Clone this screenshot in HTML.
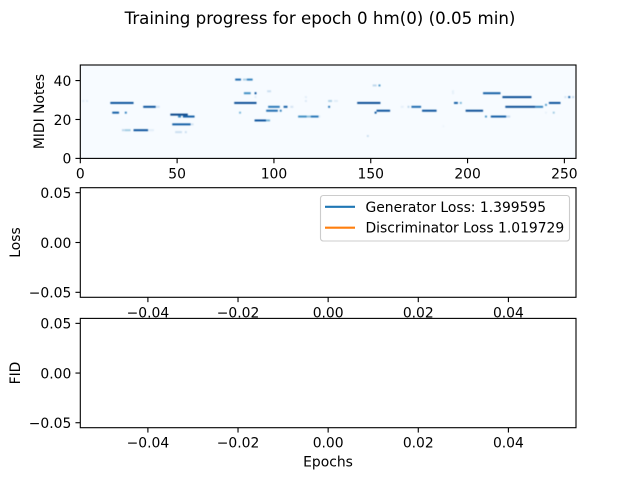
<!DOCTYPE html>
<html>
<head>
<meta charset="utf-8">
<style>
html,body{margin:0;padding:0;background:#fff;width:640px;height:480px;overflow:hidden}
svg{display:block}
text{font-family:"DejaVu Sans","Liberation Sans",sans-serif;fill:#000}
</style>
</head>
<body>
<svg id="fig" xmlns="http://www.w3.org/2000/svg" width="640" height="480" viewBox="0 0 640 480">
<defs><filter id="soft" x="-5%" y="-5%" width="110%" height="110%" color-interpolation-filters="sRGB"><feGaussianBlur stdDeviation="0.42"/></filter></defs>
<rect width="640" height="480" fill="#fff"/>
<text x="320" y="24" font-size="16.67" text-anchor="middle">Training progress for epoch 0 hm(0) (0.05 min)</text>
</svg>
<script>
// piano-roll data: [pitch, startStep, endStep, intensity]
const rollNotes = [
[29,1,2,0.12],[29,3,4,0.12],
[28,15.5,27.5,0.95],[26,32.5,39,0.95],[26,39,41,0.2],
[23,16.5,20,0.9],[23,23,24,0.75],
[14,21.5,23,0.3],[14,23,26,0.4],[14,27.5,35,0.95],[14,35,38,0.12],
[22,46.5,55.5,1],[21,50.5,52,0.75],[21,53,59,0.9],
[17,47.5,57,0.9],[17,57,58.5,0.2],[13,49,52.5,0.25],[13,54,55,0.25],
[40,80,83,0.85],[40,84,86,0.35],[40,86,89,0.75],
[33,84.5,88,0.7],[33,90,91,0.95],[31,90,91,0.12],[34,96.5,98.5,0.25],
[28,79.5,91,0.97],[23,82,83,0.5],
[19,90,96,0.95],[19,96,98,0.5],
[26,97,103,0.8],[26,105,107,0.9],[26,108.5,110,0.2],
[24,96,102,0.85],[24,103,104,0.75],
[21,112.5,117,0.7],[21,117,119,0.45],[21,119,123.5,0.8],
[31,116,117,0.12],[29,116,117,0.15],
[29,128,130,0.35],[29,131,133,0.12],[26,128,129,0.8],
[28,143,155,0.97],[24,153,160,0.95],[23,152,153,0.95],
[37,151,153,0.3],[37,154,155,0.65],[11,148,149,0.25],
[26,165.5,167,0.1],[26,169,170,0.3],[26,171,176,0.85],
[24,176.5,184,0.95],
[34,192,193,0.1],[33,192,193,0.1],[28,193,195,0.9],[28,196,197,0.5],
[24,199,208,0.97],[33,208,217,0.9],
[21,209,210,0.65],[21,212,220,0.9],[21,220,222,0.25],
[31,218,233,0.97],[26,219.5,235,0.97],[26,235,239,0.75],
[28,242,248,0.95],[27,240,241,0.6],[23,244,245,0.4],[23,240,241,0.08],
[31,250,251,0.2],[31,252,253,0.9],[31,254,255,0.3],[16,187,188,0.05],[21,123,124,0.12]
];
const rollXTicks = [0,50,100,150,200,250];
const rollYTicks = [0,20,40];
const emptyXTicks = [-0.04,-0.02,0,0.02,0.04];
const emptyYTicks = [-0.05,0,0.05];
const generatorLoss = [];
const discriminatorLoss = [];
const fidValues = [];
const legendLabels = ['Generator Loss: 1.399595','Discriminator Loss 1.019729'];

const NS = 'http://www.w3.org/2000/svg';
const fig = document.getElementById('fig');
const L = 80.3, R = 576;
function mk(tag, attrs, txt, parent){
  const e = document.createElementNS(NS, tag);
  for (const k in attrs) e.setAttribute(k, attrs[k]);
  if (txt !== undefined) e.textContent = txt;
  (parent || fig).appendChild(e);
  return e;
}
function scale(d0,d1,r0,r1){ return v => r0 + (v-d0)*(r1-r0)/(d1-d0); }
function fmt(v,dp){ return (v<0?'\u2212':'') + Math.abs(v).toFixed(dp); }
const blues = [[247,251,255],[222,235,247],[198,219,239],[158,202,225],[107,174,214],[66,146,198],[33,113,181],[8,81,156],[8,48,107]];
function blue(t){
  const p = Math.min(t*0.92,0.999)*8, i = Math.floor(p), f = p-i;
  return 'rgb(' + blues[i].map((c,j)=>Math.round(c+(blues[i+1][j]-c)*f)).join(',') + ')';
}
function drawTicks(xs, ys, top, bottom, sx, sy, xl, yl){
  xs.forEach(function(t){
    const tick = mk('line',{x1:sx(t),x2:sx(t),y1:bottom,y2:bottom+4.86,stroke:'#000','stroke-width':1.11});
    
    
    const lab = mk('text',{x:sx(t),y:bottom+20,'font-size':13.89,'text-anchor':'middle'}, xl(t));
    
    
  });
  ys.forEach(function(t){
    const tick = mk('line',{x1:L-4.86,x2:L,y1:sy(t),y2:sy(t),stroke:'#000','stroke-width':1.11});
    
    
    const lab = mk('text',{x:L-9,y:sy(t)+5.3,'font-size':13.89,'text-anchor':'end'}, yl(t));
    
    
  });
}
function frame(top,bottom,name){
  const r = mk('rect',{x:L,y:top,width:R-L,height:bottom-top,fill:'none',stroke:'#000','stroke-width':1.11});
  
  
}
function ylabel(x,y,txt,name){
  const t = mk('text',{x:x,y:y,'font-size':13.89,'text-anchor':'middle',transform:'rotate(-90 '+x+' '+y+')'},txt);
  
  
}
function series(vals, sx, sy, color, name){
  const d = vals.map((v,i)=>(i?'L':'M')+sx(i)+' '+sy(v)).join(' ');
  const p = mk('path',{d:d,fill:'none',stroke:color,'stroke-width':2.08});
  
  
}

// piano roll
const rT = 65, rB = 158.4;
const rx = scale(0,256,L,R), ry = scale(0,48,rB,rT);
const bg = mk('rect',{x:L,y:rT,width:R-L,height:rB-rT,fill:blue(0)});


const noteGroup = mk('g',{filter:'url(#soft)'});


rollNotes.forEach(function(n){
  const r = mk('rect',{x:rx(n[1]),y:ry(n[0]+1),width:rx(n[2])-rx(n[1]),height:ry(n[0])-ry(n[0]+1),fill:blue(n[3])},undefined,noteGroup);
  
  
});
frame(rT,rB,'piano-roll-frame');
drawTicks(rollXTicks,rollYTicks,rT,rB,rx,ry,t=>String(t),t=>String(t));
ylabel(44,111.5,'MIDI Notes','piano-roll-y-axis-title');

// loss panel
const lT = 187.7, lB = 297.3;
const ex = scale(-0.055,0.055,L,R);
const ly = scale(-0.055,0.055,lB,lT);
series(generatorLoss,ex,ly,'#1f77b4','generator-loss-line');
series(discriminatorLoss,ex,ly,'#ff7f0e','discriminator-loss-line');
frame(lT,lB,'loss-frame');
drawTicks(emptyXTicks,emptyYTicks,lT,lB,ex,ly,t=>fmt(t,2),t=>fmt(t,2));
ylabel(20,242.5,'Loss','loss-y-axis-title');

const box = mk('rect',{x:320.5,y:195.5,width:249,height:45.5,rx:2.8,fill:'#fff','fill-opacity':0.8,stroke:'#ccc','stroke-width':1.11});


['#1f77b4','#ff7f0e'].forEach(function(c,i){
  const yy = 206.8 + i*20.9;
  const h = mk('line',{x1:325,x2:355,y1:yy,y2:yy,stroke:c,'stroke-width':2.08});
  
  
  const t = mk('text',{x:365.5,y:yy+5,'font-size':13.89},legendLabels[i]);
  
  
});

// FID panel
const fT = 318.4, fB = 427.7;
const fy = scale(-0.055,0.055,fB,fT);
series(fidValues,ex,fy,'#1f77b4','fid-line');
frame(fT,fB,'fid-frame');
drawTicks(emptyXTicks,emptyYTicks,fT,fB,ex,fy,t=>fmt(t,2),t=>fmt(t,2));
ylabel(20,373,'FID','fid-y-axis-title');
const xt = mk('text',{x:328,y:466.5,'font-size':13.89,'text-anchor':'middle'},'Epochs');


</script>
</body>
</html>
